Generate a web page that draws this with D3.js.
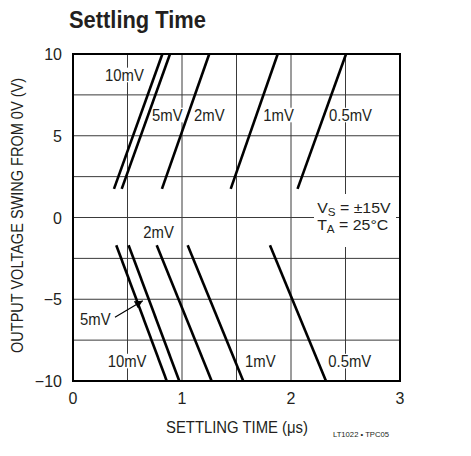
<!DOCTYPE html>
<html><head><meta charset="utf-8">
<script src="https://cdn.jsdelivr.net/npm/d3@7"></script>
<style>
body{margin:0;background:#fff;}
text{font-family:"Liberation Sans",Arial,Helvetica,sans-serif;fill:#231f20;}
</style></head>
<body>
<svg id="c" width="471" height="456"></svg>
<script>
// ---- data ----
const curveLabels = ["10mV", "5mV", "2mV", "1mV", "0.5mV"];
const posStartX = [0.376, 0.447, 0.816, 1.447, 2.06];
const posEndX   = [0.82, 0.89, 1.25, 1.878, 2.505];
const posStartY = 1.75, posEndY = 10;
const negStartX = [0.397, 0.51, 0.768, 1.052, 1.807];
const negEndX   = [0.86, 0.975, 1.272, 1.562, 2.321];
const negStartY = -1.7, negEndY = -10;
const xTicks = [0, 1, 2, 3];
const yTicks = [-10, -5, 0, 5, 10];
const xGrid = [0.5, 1, 1.5, 2, 2.5];
const yGrid = [-7.5, -5, -2.5, 0, 2.5, 5, 7.5];

// annotation anchors (data units)
const annos = [
  {t:"10mV", x:0.294, y:8.37},
  {t:"5mV", x:0.725, y:5.92},
  {t:"2mV", x:1.11, y:5.92},
  {t:"1mV", x:1.746, y:5.92},
  {t:"0.5mV", x:2.349, y:5.92},
  {t:"2mV", x:0.645, y:-1.25},
  {t:"5mV", x:0.064, y:-6.6},
  {t:"10mV", x:0.318, y:-9.13},
  {t:"1mV", x:1.578, y:-9.13},
  {t:"0.5mV", x:2.342, y:-9.13}
];

const svg = d3.select("#c");
const L = 73, R = 400, T = 54, B = 381;
const x = d3.scaleLinear().domain([0, 3]).range([L, R]);
const y = d3.scaleLinear().domain([-10, 10]).range([B, T]);
const K = 0.93; // horizontal condensation to mimic condensed face

function fitText(sel, w) {
  sel.attr("textLength", w).attr("lengthAdjust", "spacingAndGlyphs");
  return sel;
}

// title
fitText(svg.append("text").attr("x", 69).attr("y", 28).attr("font-size", 24).attr("font-weight", "bold")
  .text("Settling Time"), 137);

// grid
const g = svg.append("g");
g.selectAll(".vg").data(xGrid).join("line")
  .attr("x1", d => x(d)).attr("x2", d => x(d)).attr("y1", T).attr("y2", B)
  .attr("stroke", "#3a3a3a").attr("stroke-width", 1);
g.selectAll(".hg").data(yGrid).join("line")
  .attr("y1", d => y(d)).attr("y2", d => y(d)).attr("x1", L).attr("x2", R)
  .attr("stroke", "#3a3a3a").attr("stroke-width", 1);

// annotation layer with white backgrounds
const ag = svg.append("g");
function label(t, xx, yy, fs) {
  const grp = ag.append("g").attr("transform", `translate(${xx},${yy}) scale(${K},1)`);
  const tx = grp.append("text").attr("x", 0).attr("y", 0).attr("font-size", fs).text(t);
  const bb = tx.node().getBBox();
  grp.insert("rect", "text").attr("x", bb.x - 1.5).attr("y", bb.y + 1.5).attr("width", bb.width + 3)
    .attr("height", bb.height - 3).attr("fill", "#fff");
  return grp;
}
annos.forEach(a => label(a.t, x(a.x), y(a.y), 16));

// VS / TA box
const bx = x(2.24);
ag.append("rect").attr("x", 314).attr("y", 194).attr("width", 82).attr("height", 53).attr("fill", "#fff");
const g1 = ag.append("g").attr("transform", `translate(${bx},${y(0.28)}) scale(1.06,1)`);
const t1 = g1.append("text").attr("font-size", 15);
t1.append("tspan").text("V");
t1.append("tspan").attr("font-size", 11).attr("dy", 3).text("S");
t1.append("tspan").attr("dy", -3).text(" = ±15V");
const g2 = ag.append("g").attr("transform", `translate(${bx},${y(-0.78)}) scale(1.06,1)`);
const t2 = g2.append("text").attr("font-size", 15);
t2.append("tspan").text("T");
t2.append("tspan").attr("font-size", 11).attr("dy", 3).text("A");
t2.append("tspan").attr("dy", -3).text(" = 25°C");

// curves
const cg = svg.append("g");
cg.selectAll(".p").data(curveLabels).join("line")
  .attr("x1", (d, i) => x(posStartX[i])).attr("y1", y(posStartY))
  .attr("x2", (d, i) => x(posEndX[i])).attr("y2", y(posEndY))
  .attr("stroke", "#000").attr("stroke-width", 2.6);
cg.selectAll(".n").data(curveLabels).join("line")
  .attr("x1", (d, i) => x(negStartX[i])).attr("y1", y(negStartY))
  .attr("x2", (d, i) => x(negEndX[i])).attr("y2", y(negEndY))
  .attr("stroke", "#000").attr("stroke-width", 2.6);

// arrow
svg.append("defs").append("marker").attr("id", "ah").attr("viewBox", "0 0 10 10")
  .attr("refX", 10).attr("refY", 5).attr("markerWidth", 10).attr("markerHeight", 8)
  .attr("markerUnits", "userSpaceOnUse").attr("orient", "auto")
  .append("path").attr("d", "M0,0 L10,5 L0,10 Z").attr("fill", "#000");
svg.append("line").attr("x1", x(0.385)).attr("y1", y(-6.1)).attr("x2", x(0.64)).attr("y2", y(-5.09))
  .attr("stroke", "#000").attr("stroke-width", 1.2).attr("marker-end", "url(#ah)");

// frame
svg.append("rect").attr("x", L).attr("y", T).attr("width", R - L).attr("height", B - T)
  .attr("fill", "none").attr("stroke", "#000").attr("stroke-width", 2);

// tick labels
svg.selectAll(".xt").data(xTicks).join("text")
  .attr("x", d => x(d)).attr("y", 404).attr("text-anchor", "middle").attr("font-size", 16)
  .text(d => d);
svg.selectAll(".yt").data(yTicks).join("text")
  .attr("x", 62).attr("y", d => y(d) + 6).attr("text-anchor", "end").attr("font-size", 16)
  .text(d => d < 0 ? "\u2212" + Math.abs(d) : d);

// axis titles
fitText(svg.append("text").attr("x", 166).attr("y", 433).attr("font-size", 16)
  .text("SETTLING TIME (μs)"), 142);
fitText(svg.append("text").attr("transform", "translate(23,353) rotate(-90)")
  .attr("font-size", 16).text("OUTPUT VOLTAGE SWING FROM 0V (V)"), 275);

// footnote
fitText(svg.append("text").attr("x", 333).attr("y", 437).attr("font-size", 8).text("LT1022 • TPC05"), 56);
</script>
</body></html>
